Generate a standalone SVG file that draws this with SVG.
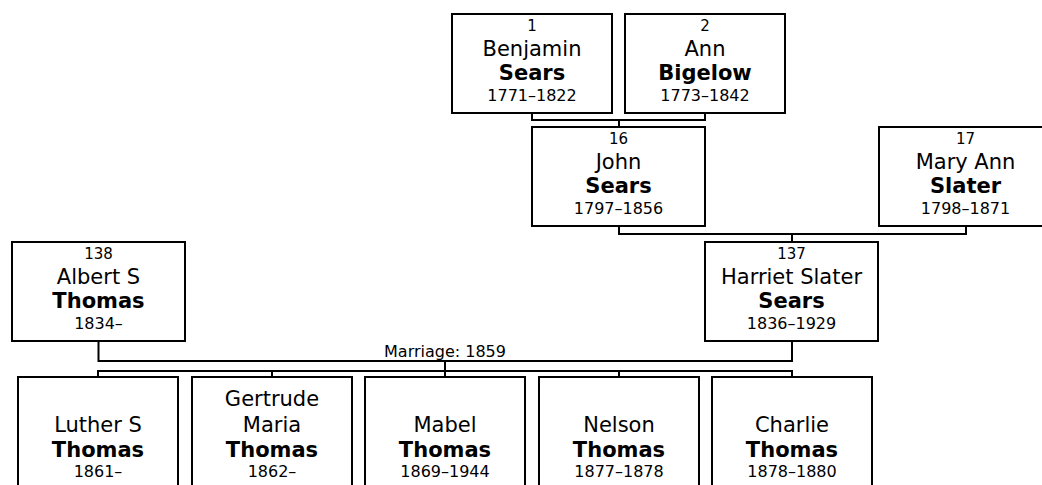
<svg xmlns="http://www.w3.org/2000/svg" width="1042" height="485" viewBox="0 0 1042 485">
<style>
.box{fill:#fff;stroke:#000;stroke-width:2}
.ln{fill:none;stroke:#000;stroke-width:2}
text{font-family:"DejaVu Sans",Verdana,sans-serif;fill:#000;text-anchor:middle}
.num{font-size:15px}
.nm{font-size:21px}
.sn{font-size:21px;font-weight:bold}
.dt{font-size:16px}
.lbl{font-size:16px}
</style>
<rect width="1042" height="485" fill="#fff"/>
<g id="connectors">
<path class="ln" d="M532,113V120H705V113M619,120V127"/>
<path class="ln" d="M619,226V234H966V226M792,234V242"/>
<path class="ln" d="M98.5,341V361H792V341M445,361V371"/>
<path class="ln" d="M98,377V371H792V377M272,371V377M445,371V377M619,371V377"/>
<text class="lbl" x="445" y="357">Marriage: 1859</text>
</g>
<g id="p1">
<rect class="box" x="452" y="14" width="160" height="99"/>
<text class="num" x="532" y="31">1</text>
<text class="nm" x="532" y="56">Benjamin</text>
<text class="sn" x="532" y="80">Sears</text>
<text class="dt" x="532" y="101">1771–1822</text>
</g>
<g id="p2">
<rect class="box" x="625" y="14" width="160" height="99"/>
<text class="num" x="705" y="31">2</text>
<text class="nm" x="705" y="56">Ann</text>
<text class="sn" x="705" y="80">Bigelow</text>
<text class="dt" x="705" y="101">1773–1842</text>
</g>
<g id="p16">
<rect class="box" x="532" y="127" width="173" height="99"/>
<text class="num" x="618.5" y="144">16</text>
<text class="nm" x="618.5" y="169">John</text>
<text class="sn" x="618.5" y="193">Sears</text>
<text class="dt" x="618.5" y="214">1797–1856</text>
</g>
<g id="p17">
<rect class="box" x="879" y="127" width="173" height="99"/>
<text class="num" x="965.5" y="144">17</text>
<text class="nm" x="965.5" y="169">Mary Ann</text>
<text class="sn" x="965.5" y="193">Slater</text>
<text class="dt" x="965.5" y="214">1798–1871</text>
</g>
<g id="p138">
<rect class="box" x="12" y="242" width="173" height="99"/>
<text class="num" x="98.5" y="259">138</text>
<text class="nm" x="98.5" y="284">Albert S</text>
<text class="sn" x="98.5" y="308">Thomas</text>
<text class="dt" x="98.5" y="329">1834–</text>
</g>
<g id="p137">
<rect class="box" x="705" y="242" width="173" height="99"/>
<text class="num" x="791.5" y="259">137</text>
<text class="nm" x="791.5" y="284">Harriet Slater</text>
<text class="sn" x="791.5" y="308">Sears</text>
<text class="dt" x="791.5" y="329">1836–1929</text>
</g>
<g id="c1">
<rect class="box" x="18" y="377" width="160" height="130"/>
<text class="nm" x="98" y="432">Luther S</text>
<text class="sn" x="98" y="457">Thomas</text>
<text class="dt" x="98" y="477">1861–</text>
</g>
<g id="c2">
<rect class="box" x="192" y="377" width="160" height="130"/>
<text class="nm" x="272" y="406">Gertrude</text>
<text class="nm" x="272" y="432">Maria</text>
<text class="sn" x="272" y="457">Thomas</text>
<text class="dt" x="272" y="477">1862–</text>
</g>
<g id="c3">
<rect class="box" x="365" y="377" width="160" height="130"/>
<text class="nm" x="445" y="432">Mabel</text>
<text class="sn" x="445" y="457">Thomas</text>
<text class="dt" x="445" y="477">1869–1944</text>
</g>
<g id="c4">
<rect class="box" x="539" y="377" width="160" height="130"/>
<text class="nm" x="619" y="432">Nelson</text>
<text class="sn" x="619" y="457">Thomas</text>
<text class="dt" x="619" y="477">1877–1878</text>
</g>
<g id="c5">
<rect class="box" x="712" y="377" width="160" height="130"/>
<text class="nm" x="792" y="432">Charlie</text>
<text class="sn" x="792" y="457">Thomas</text>
<text class="dt" x="792" y="477">1878–1880</text>
</g>
</svg>
